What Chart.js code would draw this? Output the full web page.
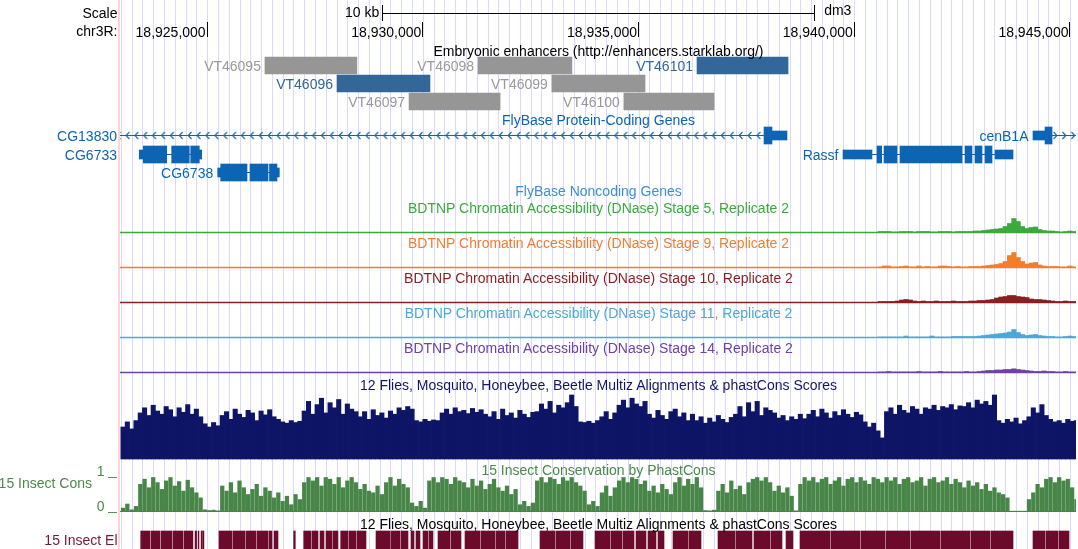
<!DOCTYPE html>
<html>
<head>
<meta charset="utf-8">
<script src="https://cdn.jsdelivr.net/npm/chart.js@4.4.0/dist/chart.umd.min.js"></script>
<style>
  html, body { margin: 0; padding: 0; background: #fff; }
  #wrap { position: relative; width: 1078px; height: 549px; overflow: hidden;
          font-family: "Liberation Sans", Arial, Helvetica, sans-serif; font-size: 14px; }
  #chart { position: absolute; left: 0; top: 0; }
  .lbl { position: absolute; white-space: nowrap; line-height: 16px; }
  .tick { position: absolute; height: 1px; background: #5a8f5a; }
</style>
</head>
<body>
<div id="wrap"><canvas id="chart" width="1078" height="549"></canvas></div>
<script>
// window on chr3R (dm3)
const VIEW_START = 18922980;
const VIEW_END = 18945140;
const RULER_TICKS = [18925000, 18930000, 18935000, 18940000, 18945000];
const SCALE_BAR = [18929070, 18939070];

// Embryonic enhancers
const ENH_NAMES = ["VT46095", "VT46096", "VT46097", "VT46098", "VT46099", "VT46100", "VT46101"];
const ENH_STARTS = [18926340, 18928010, 18929680, 18931280, 18932990, 18934660, 18936355];
const ENH_ENDS = [18928470, 18930165, 18931790, 18933455, 18935150, 18936750, 18938465];
const ENH_ROWS = [0, 1, 2, 0, 1, 2, 0];
const ENH_ACTIVE = [false, true, false, false, false, false, true];

// FlyBase protein-coding genes
const GENE_NAMES = ["CG13830", "CG6733", "CG6738", "Rassf", "cenB1A"];
const GENE_SPANS = [[18921000, 18938441], [18923427, 18924874], [18925245, 18926673], [18939739, 18943680], [18944143, 18947000]];
const GENE_STRANDS = ["-", "+", "+", "-", "+"];
const GENE_ROWS = [0, 1, 2, 1, 0];
const GENE_CDS = [
    [[18937908, 18938093]],
    [[18923520, 18924063], [18924178, 18924586], [18924619, 18924818]],
    [[18925314, 18925924], [18925993, 18926411], [18926445, 18926619]],
    [[18940527, 18940636], [18940690, 18940991], [18941060, 18942498], [18942567, 18942729], [18942799, 18942961], [18943031, 18943193]],
    [[18944422, 18944584]],
];
const GENE_UTR = [
    [[18938093, 18938441]],
    [[18923427, 18923520], [18924818, 18924874]],
    [[18925245, 18925314], [18926619, 18926673]],
    [[18939739, 18940411], [18943263, 18943680]],
    [[18944143, 18944422]],
];

// BDTNP DNase signal, 100 bp bins
const DNASE_BIN_START = 18940550;
const DNASE_BIN = 100;
const DNASE_TITLES = [
    "BDTNP Chromatin Accessibility (DNase) Stage 5, Replicate 2",
    "BDTNP Chromatin Accessibility (DNase) Stage 9, Replicate 2",
    "BDTNP Chromatin Accessibility (DNase) Stage 10, Replicate 2",
    "BDTNP Chromatin Accessibility (DNase) Stage 11, Replicate 2",
    "BDTNP Chromatin Accessibility (DNase) Stage 14, Replicate 2",
];
const DNASE_STAGE5 = [1, 1, 1, 0.5, 0.5, 1, 1, 1, 0.5, 1, 1, 1, 0.5, 0.5, 1, 1, 1, 0.5, 1, 1, 1, 1, 1.5,
    1.5, 2, 2.5, 3, 3.5, 4, 6, 9, 14, 11, 6, 4, 5, 5.5, 3, 2, 1.5, 1.5, 1, 0.5, 1, 1.5, 1];
const DNASE_STAGE9 = [0.5, 1.5, 1.5, 0.5, 0.5, 1, 1.5, 0.5, 0.5, 1.5, 0.5, 1, 0.5, 0.5, 1.5, 1.5, 1, 0.5, 1, 0.5, 0.5, 1, 1,
    1, 1.5, 2, 2.5, 3, 4, 6, 12, 15, 10, 6, 3.5, 4.5, 5, 2.5, 1.5, 1, 1, 1, 0.5, 0.5, 1.5, 0.5];
const DNASE_STAGE10 = [1, 1, 1, 1, 1.5, 2.5, 3, 2.5, 1.5, 1, 1.5, 1, 1, 1.5, 1, 1, 1, 1.5, 1, 1, 1, 1.5, 1.5,
    2, 2, 2.5, 3, 4.5, 5.5, 6, 7, 7, 6, 5.5, 5, 3.5, 3, 3, 2.5, 2, 1.5, 1, 1, 1.5, 1, 1];
const DNASE_STAGE11 = [0.5, 0.5, 0.5, 0.5, 0.5, 0.5, 1.5, 0.5, 0.5, 0.5, 0.5, 0.5, 1.5, 0.5, 0.5, 0.5, 0.5, 1, 1, 1, 1, 1, 1,
    1.5, 2, 2.5, 3, 3.5, 4, 4.5, 5.5, 8, 5, 3, 2, 2.5, 3, 2, 1.5, 1, 1, 0.5, 0.5, 1, 1.5, 1];
const DNASE_STAGE14 = [0.5, 0.5, 1, 0.5, 0.5, 0.5, 0.5, 0.5, 0.5, 1, 0.5, 0.5, 0.5, 0.5, 1, 0.5, 0.5, 0.5, 0.5, 0.5, 1, 0.5, 0.5,
    1, 1.5, 2, 2, 2.5, 2.5, 3, 3, 3.7, 3, 2.5, 2, 1.5, 1, 1, 1.5, 1, 1, 0.5, 0.5, 1, 0.5, 0.5];

// conservation, 100 bp bins
const CONS_BIN_START = 18923000;
const CONS_BIN = 100;
const MULTIZ_SCORES = [
    0.50, 0.58, 0.47, 0.60,
    0.72, 0.80, 0.68, 0.84, 0.75, 0.70, 0.82, 0.77, 0.66, 0.80, 0.73, 0.85, 0.70, 0.78, 0.66,
    0.55, 0.50, 0.57, 0.52,
    0.68, 0.74, 0.62, 0.78, 0.70, 0.65, 0.76, 0.72, 0.60, 0.75, 0.69, 0.77, 0.66, 0.62,
    0.58, 0.56, 0.60, 0.57, 0.59,
    0.75, 0.90, 0.70, 0.85, 0.95, 0.72, 0.88, 0.80, 0.93, 0.70, 0.86, 0.78, 0.74,
    0.66, 0.74, 0.62, 0.77, 0.68, 0.72, 0.64, 0.75, 0.70,
    0.80, 0.76, 0.82, 0.78,
    0.60, 0.58, 0.62, 0.59, 0.61, 0.60,
    0.72, 0.78, 0.70, 0.80, 0.74, 0.76, 0.71, 0.79, 0.73, 0.77, 0.70,
    0.66, 0.74, 0.62, 0.78, 0.68, 0.72, 0.64, 0.76, 0.70, 0.65, 0.73,
    0.74, 0.86, 0.78, 0.90, 0.72, 0.84, 0.80, 0.88, 1.00, 0.82,
    0.58, 0.57, 0.59, 0.56, 0.60,
    0.66, 0.74, 0.62, 0.72,
    0.84, 0.92, 0.80, 0.95, 0.86, 0.82, 0.90,
    0.70, 0.64, 0.76, 0.68, 0.62, 0.74, 0.78, 0.66, 0.72, 0.60, 0.70,
    0.60, 0.66, 0.56, 0.64, 0.58, 0.68, 0.62, 0.57, 0.65,
    0.70, 0.82, 0.66, 0.88, 0.74, 0.90, 0.68, 0.80, 0.76, 0.72,
    0.64, 0.68, 0.60, 0.66, 0.62, 0.70, 0.63,
    0.70, 0.76, 0.66, 0.78, 0.72, 0.64, 0.74, 0.68, 0.77, 0.70, 0.65, 0.73, 0.69,
    0.58, 0.50, 0.56, 0.44, 0.33,
    0.74, 0.80, 0.70, 0.84, 0.76, 0.72, 0.82, 0.78, 0.70, 0.80,
    0.78, 0.84, 0.76, 0.82, 0.80, 0.85, 0.77, 0.83,
    0.82, 0.88, 0.80, 0.92, 0.86, 0.90, 0.84, 1.00,
    0.60, 0.56, 0.62, 0.58, 0.64, 0.55, 0.60,
    0.66, 0.80, 0.72, 0.85, 0.68,
    0.62, 0.58, 0.60, 0.56, 0.62, 0.59, 0.60,
];
const PHASTCONS_SCORES = [
    0.10, 0.22, 0.05, 0.15,
    0.80, 0.95, 0.70, 1.00, 0.85, 0.65, 0.90, 1.00, 0.75, 0.88, 0.60, 0.92, 0.70, 0.55, 0.40,
    0.05, 0.03, 0.04, 0.02,
    0.75, 0.60, 0.85, 0.55, 0.90, 0.70, 0.50, 0.65, 0.80, 0.45, 0.70, 0.60, 0.40, 0.55,
    0.30, 0.45, 0.20, 0.50, 0.35,
    0.85, 1.00, 0.90, 1.00, 0.75, 1.00, 0.95, 0.80, 1.00, 0.70, 0.90, 1.00, 0.85, 0.65, 0.80, 0.60,
    0.55, 0.75, 0.50,
    0.85, 1.00, 0.75, 0.95, 0.80, 0.70,
    0.25, 0.15, 0.30, 0.10,
    0.90, 1.00, 0.85, 1.00, 0.95, 0.80, 1.00, 0.90,
    0.85, 0.70, 0.95, 0.75, 0.90, 0.65, 0.80, 0.95, 0.70,
    0.60, 0.75, 0.50, 0.65,
    0.20, 0.30, 0.15, 0.25,
    0.90, 1.00, 0.85, 1.00, 0.95, 0.80, 1.00, 0.90, 1.00, 0.85, 0.75, 0.60,
    0.20, 0.30, 0.15,
    0.55, 0.75, 0.45, 0.70,
    0.90, 1.00, 0.85, 1.00, 0.95, 0.80, 0.90,
    0.60, 0.75, 0.55, 0.80, 0.65, 0.50,
    0.85, 1.00, 0.75, 0.95, 0.80, 1.00, 0.70,
    0.03, 0.02, 0.04,
    0.60, 0.80, 0.55, 0.90, 0.65, 0.75, 0.50, 0.85,
    0.95, 1.00, 0.90, 1.00, 0.85,
    0.60, 0.75, 0.55, 0.70, 0.45,
    0.02,
    0.80, 1.00, 0.90, 1.00, 0.85, 0.95, 1.00, 0.80, 0.90, 1.00,
    0.75, 0.95, 1.00, 0.85, 1.00, 0.90, 0.80, 1.00, 0.95, 0.85,
    1.00, 0.90, 1.00, 0.80, 0.95, 1.00, 0.85, 0.90, 1.00, 0.75,
    0.95, 1.00, 0.85, 0.90, 1.00, 0.80, 0.95, 0.85, 0.70, 0.90,
    0.75, 0.85, 0.65, 0.80, 0.60, 0.70, 0.55, 0.50, 0.40,
    0.01, 0.01, 0.01, 0.01,
    0.35, 0.55, 0.80, 0.70, 0.95, 1.00,
    0.85, 1.00, 0.90, 0.95, 0.70, 0.35,
];
const CONS_ELEMENTS = [
    [18923460, 18923675], [18923700, 18923905], [18923930, 18924185], [18924210, 18924440], [18924465, 18924670],
    [18924720, 18924755], [18924790, 18924810], [18924860, 18924890], [18924905, 18924925],
    [18925275, 18925576], [18925599, 18925878], [18925901, 18926132], [18926156, 18926411], [18926434, 18926503], [18926550, 18926642],
    [18927006, 18927043],
    [18927238, 18927407], [18927431, 18927570], [18927616, 18927709], [18927755, 18927894], [18927917, 18928033],
    [18928096, 18928265], [18928288, 18928450], [18928474, 18928682],
    [18928914, 18929239], [18929262, 18929470], [18929494, 18929656], [18929725, 18929795], [18929841, 18929934],
    [18930004, 18930119], [18930143, 18930235], [18930351, 18930629], [18930653, 18930884], [18930977, 18931325],
    [18931348, 18931673], [18931696, 18931904], [18931927, 18932206],
    [18932716, 18933063], [18933086, 18933411], [18933434, 18933712],
    [18933991, 18934338], [18934361, 18934616], [18934640, 18934895], [18934941, 18935173], [18935219, 18935404], [18935451, 18935590],
    [18935799, 18936146], [18936169, 18936448],
    [18936842, 18937236], [18937259, 18937630], [18937676, 18938047], [18938070, 18938325], [18938418, 18938580],
    [18938742, 18939438], [18939461, 18940133], [18940156, 18940713], [18940736, 18941292], [18941315, 18941988],
    [18942011, 18942683], [18942706, 18943147], [18943170, 18943680],
    [18944143, 18944422], [18944445, 18944723], [18944746, 18944978],
];

// layout (pixels) and colours
const W = 1078;
const H = 549;
const TITLE_X = 598.5;
const ENH_ROW_Y = [65.5, 83.5, 101.5];
const GENE_ROW_Y = [135.5, 154.5, 172.5];
const DNASE_BASE = [232.5, 267.5, 302.5, 337.5, 372.5];
const DNASE_TITLE_Y = [208, 243, 278.3, 313.3, 348.3];
const DNASE_COLORS = ["#3ca93c", "#f47d2c", "#8a1f1f", "#4aa9d6", "#6f40a6"];
const ENH_GRAY = "#969696";
const ENH_BLUE = "#336699";
const GENE_BLUE = "#0b64b4";
const NAVY = "#0e1566";
const CONS_GREEN = "#488648";
const ELEM_RED = "#6c0a2c";
const ARROW_STEP = 206;

const wrap = document.getElementById("wrap");

function addLabel(text, x, y, color, align) {
    const d = document.createElement("div");
    d.className = "lbl";
    d.textContent = text;
    d.style.color = color;
    d.style.top = (y - 8) + "px";
    if (align === "right") {
        d.style.right = (W - x) + "px";
    } else if (align === "center") {
        d.style.left = x + "px";
        d.style.transform = "translateX(-50%)";
    } else {
        d.style.left = x + "px";
    }
    wrap.appendChild(d);
    return d;
}

function band(base, height, vmax) {
    const min = -(H - base) / height * vmax;
    return { type: "linear", axis: "y", display: false, offset: false, min: min, max: min + H / height * vmax };
}

function chevron(strand) {
    const c = document.createElement("canvas");
    c.width = 6;
    c.height = 9;
    const g = c.getContext("2d");
    g.strokeStyle = GENE_BLUE;
    g.lineWidth = 1.1;
    g.beginPath();
    if (strand === "-") {
        g.moveTo(4.5, 1); g.lineTo(1.2, 4.5); g.lineTo(4.5, 8);
    } else {
        g.moveTo(1.5, 1); g.lineTo(4.8, 4.5); g.lineTo(1.5, 8);
    }
    g.stroke();
    return c;
}

const datasets = [];

// ruler bar
datasets.push({
    type: "line", xAxisID: "x", yAxisID: "yRow",
    data: [{ x: SCALE_BAR[0], y: 13.5 }, { x: SCALE_BAR[1], y: 13.5 }],
    borderColor: "#000", borderWidth: 1, pointRadius: 0, order: 1,
});

// enhancers
datasets.push({
    type: "bar", indexAxis: "y", xAxisID: "x", yAxisID: "yRow",
    data: ENH_NAMES.map((n, i) => ({ x: [ENH_STARTS[i], ENH_ENDS[i]], y: ENH_ROW_Y[ENH_ROWS[i]] })),
    backgroundColor: ENH_NAMES.map((n, i) => (ENH_ACTIVE[i] ? ENH_BLUE : ENH_GRAY)),
    barThickness: 17, order: 0,
});

// genes
GENE_NAMES.forEach((name, g) => {
    const y = GENE_ROW_Y[GENE_ROWS[g]];
    datasets.push({
        type: "bar", indexAxis: "y", xAxisID: "x", yAxisID: "yRow",
        data: GENE_CDS[g].map((e) => ({ x: e, y: y })),
        backgroundColor: GENE_BLUE, barThickness: 17, order: 0,
    });
    datasets.push({
        type: "bar", indexAxis: "y", xAxisID: "x", yAxisID: "yRow",
        data: GENE_UTR[g].map((e) => ({ x: e, y: y })),
        backgroundColor: GENE_BLUE, barThickness: 9, order: 0,
    });
    datasets.push({
        type: "line", xAxisID: "x", yAxisID: "yRow",
        data: [{ x: GENE_SPANS[g][0], y: y }, { x: GENE_SPANS[g][1], y: y }],
        borderColor: GENE_BLUE, borderWidth: 1, pointRadius: 0, order: 1,
    });
    const exons = GENE_CDS[g].concat(GENE_UTR[g]);
    const arrows = [];
    for (let p = GENE_SPANS[g][0] + 100; p < GENE_SPANS[g][1] - 60; p += ARROW_STEP) {
        if (!exons.some((e) => p > e[0] - 70 && p < e[1] + 70)) arrows.push({ x: p, y: y });
    }
    datasets.push({
        type: "scatter", xAxisID: "x", yAxisID: "yRow",
        data: arrows, pointStyle: chevron(GENE_STRANDS[g]), pointRadius: 4, order: 1,
    });
});

// DNase tracks
const DNASE_TRACKS = [DNASE_STAGE5, DNASE_STAGE9, DNASE_STAGE10, DNASE_STAGE11, DNASE_STAGE14];
DNASE_TRACKS.forEach((vals, k) => {
    const yid = "yDnase" + k;
    datasets.push({
        type: "line", xAxisID: "x", yAxisID: yid,
        data: [{ x: VIEW_START, y: 0 }, { x: VIEW_END, y: 0 }],
        borderColor: DNASE_COLORS[k], borderWidth: 1.5, pointRadius: 0, order: 2,
    });
    datasets.push({
        type: "bar", xAxisID: "x", yAxisID: yid,
        data: vals.map((v, i) => ({ x: DNASE_BIN_START + DNASE_BIN * (i + 0.5), y: v })),
        backgroundColor: DNASE_COLORS[k], barThickness: 4.4, order: 1,
    });
});

// multiz / phastCons
datasets.push({
    type: "bar", xAxisID: "x", yAxisID: "yMultiz",
    data: MULTIZ_SCORES.map((v, i) => ({ x: CONS_BIN_START + CONS_BIN * (i + 0.5), y: v })),
    backgroundColor: NAVY, barThickness: 4.4, order: 1,
});
datasets.push({
    type: "line", xAxisID: "x", yAxisID: "yCons",
    data: [{ x: VIEW_START, y: 0 }, { x: VIEW_END, y: 0 }],
    borderColor: CONS_GREEN, borderWidth: 1, pointRadius: 0, order: 2,
});
datasets.push({
    type: "bar", xAxisID: "x", yAxisID: "yCons",
    data: PHASTCONS_SCORES.map((v, i) => ({ x: CONS_BIN_START + CONS_BIN * (i + 0.5), y: v })),
    backgroundColor: CONS_GREEN, barThickness: 3.6, order: 1,
});
datasets.push({
    type: "bar", indexAxis: "y", xAxisID: "x", yAxisID: "yRow",
    data: CONS_ELEMENTS.map((e) => ({ x: e, y: 540 })),
    backgroundColor: ELEM_RED, barThickness: 18, order: 0,
});

const scales = {
    x: { type: "linear", min: VIEW_START, max: VIEW_END, display: false, offset: false },
    yRow: { type: "linear", axis: "y", min: 0, max: H, reverse: true, display: false, offset: false },
    yMultiz: band(459, 64, 1),
    yCons: band(511.5, 34, 1),
};
DNASE_BASE.forEach((b, k) => { scales["yDnase" + k] = band(b, 20, 20); });

// guide lines behind the tracks, ruler ticks on top (snapped to whole pixels)
const guides = {
    id: "guides",
    beforeDatasetsDraw(chart) {
        const { ctx, scales } = chart;
        ctx.save();
        ctx.fillStyle = "#ffd4d4";
        ctx.fillRect(118, 0, 2, H);
        ctx.strokeStyle = "#dadafc";
        ctx.lineWidth = 1;
        ctx.beginPath();
        for (let bp = Math.ceil(VIEW_START / 250) * 250; bp <= VIEW_END; bp += 250) {
            const px = Math.round(scales.x.getPixelForValue(bp)) + 0.5;
            ctx.moveTo(px, 0);
            ctx.lineTo(px, H);
        }
        ctx.stroke();
        ctx.restore();
    },
    afterDatasetsDraw(chart) {
        const { ctx, scales } = chart;
        const tick = (bp, y0, y1) => {
            const px = Math.floor(scales.x.getPixelForValue(bp)) + 0.5;
            ctx.moveTo(px, scales.yRow.getPixelForValue(y0));
            ctx.lineTo(px, scales.yRow.getPixelForValue(y1));
        };
        ctx.save();
        ctx.strokeStyle = "#000";
        ctx.lineWidth = 1;
        ctx.beginPath();
        SCALE_BAR.forEach((b) => tick(b, 5, 21));
        RULER_TICKS.forEach((t) => tick(t, 22, 37));
        ctx.stroke();
        ctx.restore();
    },
};

const chart = new Chart(document.getElementById("chart"), {
    type: "scatter",
    data: { datasets: datasets },
    options: {
        responsive: false,
        animation: false,
        devicePixelRatio: 1,
        events: [],
        layout: { autoPadding: false, padding: { left: 120, right: 2, top: 0, bottom: 0 } },
        plugins: { legend: { display: false }, tooltip: { enabled: false } },
        datasets: { bar: { grouped: false, borderWidth: 0 } },
        scales: scales,
    },
    plugins: [guides],
});

// text
const px = (bp) => chart.scales.x.getPixelForValue(bp);
addLabel("Scale", 117.5, 12.5, "#000", "right");
addLabel("chr3R:", 117.5, 31, "#000", "right");
addLabel("10 kb", px(SCALE_BAR[0]) - 3.5, 12, "#000", "right");
addLabel("dm3", px(SCALE_BAR[1]) + 10, 9.5, "#000", "left");
RULER_TICKS.forEach((t) => addLabel(t.toLocaleString("en-US"), px(t) - 1.5, 31.5, "#000", "right"));

addLabel("Embryonic enhancers (http://enhancers.starklab.org/)", TITLE_X, 50.5, "#000", "center");
ENH_NAMES.forEach((n, i) => {
    addLabel(n, px(ENH_STARTS[i]) - 4, ENH_ROW_Y[ENH_ROWS[i]], ENH_ACTIVE[i] ? ENH_BLUE : "#999999", "right");
});

addLabel("FlyBase Protein-Coding Genes", TITLE_X, 119.5, GENE_BLUE, "center");
const measure = document.createElement("canvas").getContext("2d");
measure.font = '14px "Liberation Sans", Arial, sans-serif';
GENE_NAMES.forEach((n, g) => {
    const y = GENE_ROW_Y[GENE_ROWS[g]];
    const start = px(GENE_SPANS[g][0]);
    const right = start - 4.5 - measure.measureText(n).width < 120 ? 117 : start - 4.5;
    addLabel(n, right, y, GENE_BLUE, "right");
});

addLabel("FlyBase Noncoding Genes", TITLE_X, 191, "#3d8ed8", "center");
DNASE_TITLES.forEach((t, k) => addLabel(t, TITLE_X, DNASE_TITLE_Y[k], DNASE_COLORS[k], "center"));

addLabel("12 Flies, Mosquito, Honeybee, Beetle Multiz Alignments & phastCons Scores", TITLE_X, 384.7, "#141470", "center");
addLabel("15 Insect Conservation by PhastCons", TITLE_X, 469.5, "#4a8a4a", "center");
addLabel("15 Insect Cons", 92, 483.3, "#4a8a4a", "right");
addLabel("1", 104.5, 471, "#4a8a4a", "right");
addLabel("0", 104.5, 505.5, "#4a8a4a", "right");
[476.5, 511.5].forEach((y) => {
    const t = document.createElement("div");
    t.className = "tick";
    t.style.left = "108px";
    t.style.width = "9px";
    t.style.top = y + "px";
    wrap.appendChild(t);
});
addLabel("12 Flies, Mosquito, Honeybee, Beetle Multiz Alignments & phastCons Scores", TITLE_X, 523.7, "#000", "center");
addLabel("15 Insect El", 117.5, 540, "#7c1436", "right");
</script>
</body>
</html>
